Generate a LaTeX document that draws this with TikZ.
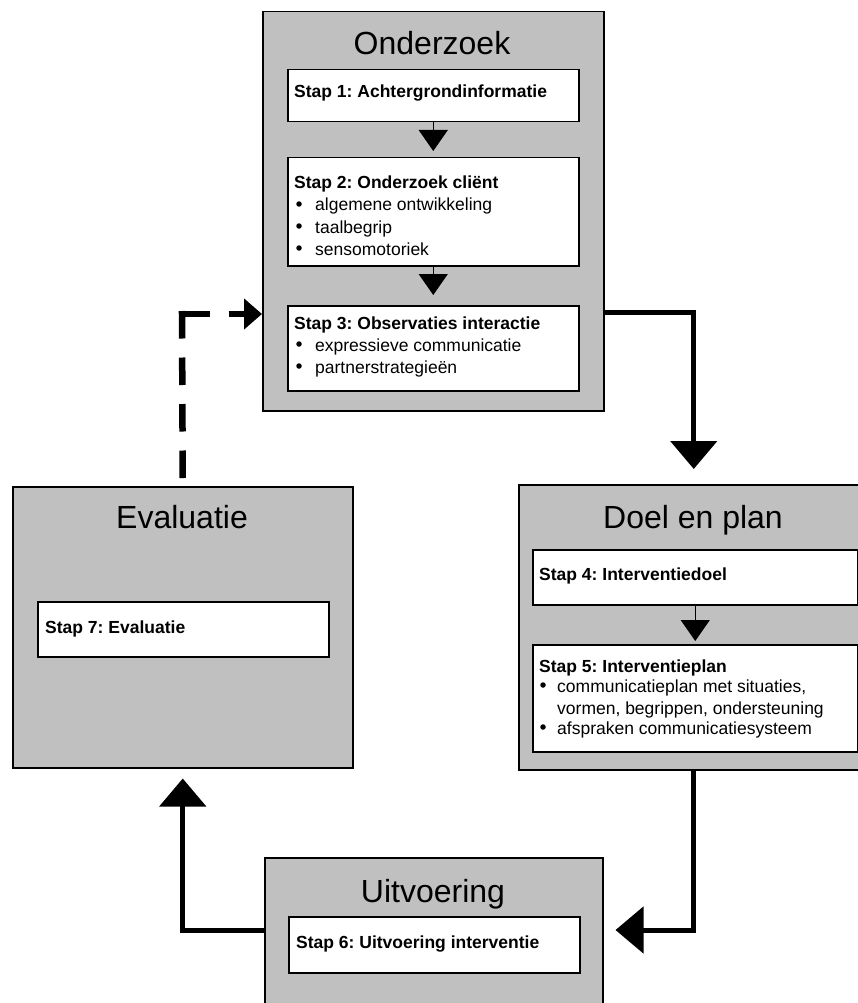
\documentclass[tikz,border=0pt]{standalone}
\usepackage{fontspec}
\setmainfont{Liberation Sans}
\usetikzlibrary{arrows.meta,calc}
\definecolor{boxgray}{HTML}{C0C0C0}
\frenchspacing
\begin{document}
\begin{tikzpicture}[x=1pt,y=-1pt,
  bigbox/.style={draw=black, line width=1.5pt, fill=boxgray, rectangle, inner sep=0pt, anchor=north west},
  stepbox/.style={draw=black, line width=1.5pt, fill=white, rectangle, inner sep=0pt, anchor=north west},
  head/.style={font=\bfseries\fontsize{17.5}{22}\selectfont, anchor=base west, inner sep=0pt},
  itemline/.style={font=\fontsize{17.5}{22}\selectfont, anchor=base west, inner sep=0pt},
  bdot/.style={circle, fill=black, inner sep=0pt, minimum size=5.5pt},
  title/.style={font=\fontsize{32}{38}\selectfont, anchor=base, inner sep=0pt},
  conn/.style={line width=5pt, -{Triangle[width=46pt,length=28pt]}},
  dline/.style={line width=6.5pt, dash pattern=on 27.5pt off 19pt},
  inarrow/.style={line width=1.2pt, -{Triangle[width=29pt,length=21pt]}}
]
\useasboundingbox (0,0) rectangle (858,1003);
\clip (0,0) rectangle (858,1003);

% Onderzoek
\node[bigbox, minimum width=341pt, minimum height=399pt] (ond) at (262,11) {};
\node[title] (tond) at (432,55) {Onderzoek};
\node[stepbox, minimum width=291pt, minimum height=52pt] (s1) at (287,69) {};
\node[head] (h1) at (294,98) {Stap 1: Achtergrondinformatie};
\node[stepbox, minimum width=291pt, minimum height=108pt] (s2) at (287,157) {};
\node[head] (h2) at (294,189) {Stap 2: Onderzoek cliënt};
\node[bdot] (b21) at (299,204) {};
\node[itemline] (i21) at (315,211) {algemene ontwikkeling};
\node[bdot] (b22) at (299,226) {};
\node[itemline] (i22) at (315,233) {taalbegrip};
\node[bdot] (b23) at (299,248) {};
\node[itemline] (i23) at (315,255) {sensomotoriek};
\node[stepbox, minimum width=291pt, minimum height=85pt] (s3) at (287,305) {};
\node[head] (h3) at (294,329) {Stap 3: Observaties interactie};
\node[bdot] (b31) at (299,344) {};
\node[itemline] (i31) at (315,351) {expressieve communicatie};
\node[bdot] (b32) at (299,366) {};
\node[itemline] (i32) at (315,373) {partnerstrategieën};

% Doel en plan
\node[bigbox, minimum width=350pt, minimum height=285pt] (doel) at (518,484) {};
\node[title] (tdoel) at (693,528) {Doel en plan};
\node[stepbox, minimum width=325pt, minimum height=55pt] (s4) at (532,549) {};
\node[head] (h4) at (539,580) {Stap 4: Interventiedoel};
\node[stepbox, minimum width=325pt, minimum height=107pt] (s5) at (532,644) {};
\node[head] (h5) at (539,672) {Stap 5: Interventieplan};
\node[bdot] (b51) at (543,685) {};
\node[itemline] (i51) at (557,692) {communicatieplan met situaties,};
\node[itemline] (i52) at (557,714) {vormen, begrippen, ondersteuning};
\node[bdot] (b53) at (543,727) {};
\node[itemline] (i53) at (557,734) {afspraken communicatiesysteem};

% Evaluatie
\node[bigbox, minimum width=340pt, minimum height=281pt] (eval) at (12,486) {};
\node[title] (teval) at (182,528) {Evaluatie};
\node[stepbox, minimum width=291pt, minimum height=55pt] (s7) at (37,601) {};
\node[head] (h7) at (45,633) {Stap 7: Evaluatie};

% Uitvoering
\node[bigbox, minimum width=338pt, minimum height=170pt] (uit) at (264,857) {};
\node[title] (tuit) at (433,902) {Uitvoering};
\node[stepbox, minimum width=291pt, minimum height=56pt] (s6) at (288,916) {};
\node[head] (h6) at (296,948) {Stap 6: Uitvoering interventie};

% inner arrows
\draw[inarrow, shorten >=6pt] (s1.south) -- (s2.north);
\draw[inarrow, shorten >=10pt] (s2.south) -- (s3.north);
\draw[inarrow, shorten >=3pt] (s4.south) -- (s5.north);

% connectors
\coordinate (yA) at (0,312);
\coordinate (yB) at (0,930);
\coordinate (dc) at (182,314);
\draw[conn, shorten >=15pt] (ond.east |- yA) -| (doel.north);
\draw[conn, shorten >=12pt] (doel.south) |- (uit.east |- yB);
\draw[conn, shorten >=10pt] (uit.west |- yB) -| (eval.south);
\draw[dline, shorten <=8pt, shorten >=-3pt] (eval.north) -- (dc);
\draw[dline, -{Triangle[width=30pt,length=18pt]}] (dc) -- (ond.west |- dc);
\end{tikzpicture}
\end{document}
